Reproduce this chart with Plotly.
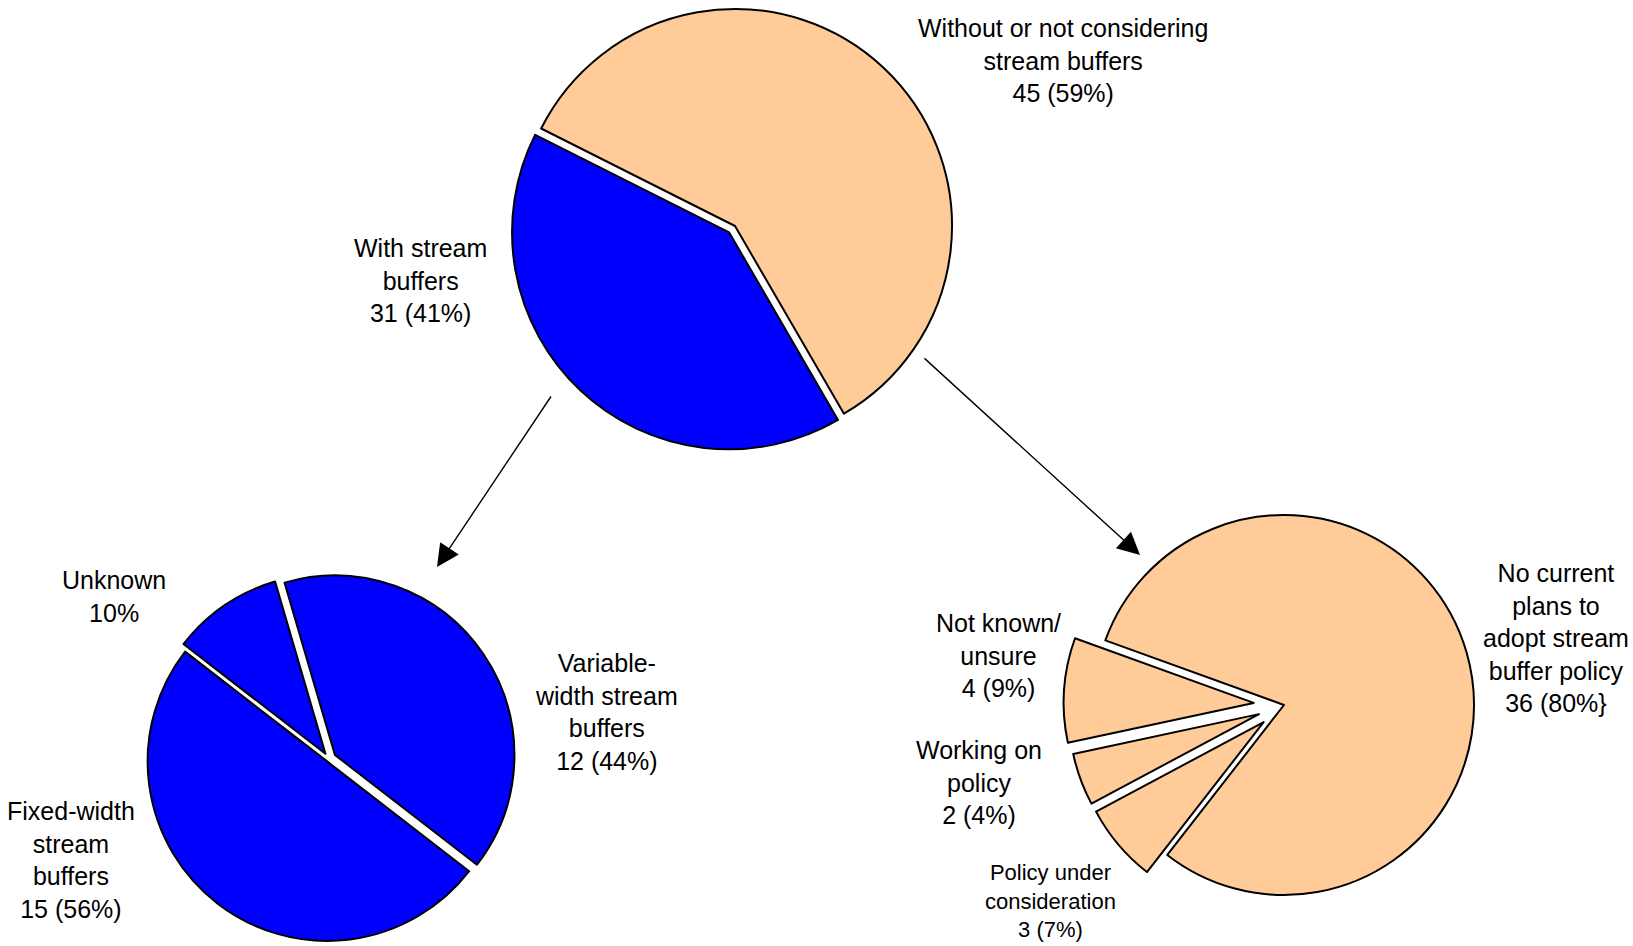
import plotly.graph_objects as go

W, H = 1633, 946

# ---------------- data ----------------
# Top pie: all respondents
top_labels = ["Without or not considering stream buffers", "With stream buffers"]
top_values = [45, 31]
top_text = ["Without or not considering<br>stream buffers<br>45 (59%)",
            "With stream<br>buffers<br>31 (41%)"]

# Bottom-left pie: with stream buffers
with_labels = ["Variable-width stream buffers", "Fixed-width stream buffers", "Unknown"]
with_values = [12, 15, 3]
with_text = ["Variable-<br>width stream<br>buffers<br>12 (44%)",
             "Fixed-width<br>stream<br>buffers<br>15 (56%)",
             "Unknown<br>10%"]

# Bottom-right pie: without stream buffers
without_labels = ["No current plans to adopt stream buffer policy",
                  "Policy under consideration", "Working on policy",
                  "Not known/unsure"]
without_values = [36, 3, 2, 4]
without_text = ["No current<br>plans to<br>adopt stream<br>buffer policy<br>36 (80%}",
                "Policy under<br>consideration<br>3 (7%)",
                "Working on<br>policy<br>2 (4%)",
                "Not known/<br>unsure<br>4 (9%)"]

# ---------------- styling / layout ----------------
BLUE = "#0000FF"
PEACH = "#FFCC99"
FONT = "Liberation Sans, Arial, sans-serif"


def domain(cx, cy, r, pull_max):
    h = r * (1 + pull_max)
    return dict(x=[max(0, (cx - h) / W), min(1, (cx + h) / W)],
                y=[max(0, 1 - (cy + h) / H), min(1, 1 - (cy - h) / H)])


pies = [
    dict(labels=top_labels, values=top_values, colors=[PEACH, BLUE],
         pull=[0, 0.04], rotation=-63.3, cx=735, cy=226, r=217),
    dict(labels=with_labels, values=with_values, colors=[BLUE, BLUE, BLUE],
         pull=[0.04, 0.017, 0.035], rotation=-16.3, cx=329, cy=759, r=179.5),
    dict(labels=without_labels, values=without_values,
         colors=[PEACH, PEACH, PEACH, PEACH],
         pull=[0, 0.14, 0.14, 0.16], rotation=-70.1, cx=1284, cy=705, r=190),
]

fig = go.Figure()
for p in pies:
    fig.add_trace(go.Pie(
        labels=p["labels"], values=p["values"], sort=False,
        direction="clockwise", rotation=p["rotation"], pull=p["pull"],
        marker=dict(colors=p["colors"], line=dict(color="black", width=2)),
        textinfo="none", hoverinfo="label+value+percent", showlegend=False,
        domain=domain(p["cx"], p["cy"], p["r"], max(p["pull"])),
    ))

# label positions (pixels: x, y-center, font size)
label_pos = [
    (top_text[0], 1063, 61, 25),
    (top_text[1], 420, 280, 25),
    (with_text[0], 606, 712, 25),
    (with_text[1], 71, 860, 25),
    (with_text[2], 114, 596, 25),
    (without_text[0], 1556, 638, 25),
    (without_text[1], 1050, 901, 22),
    (without_text[2], 979, 782, 25),
    (without_text[3], 998, 655, 25),
]

annotations = []
for txt, x, y, fs in label_pos:
    annotations.append(dict(
        text=txt, x=x / W, y=1 - y / H, xref="paper", yref="paper",
        xanchor="center", yanchor="middle", showarrow=False, align="center",
        font=dict(family=FONT, size=fs, color="black")))

# arrows (tail -> tip), pixels
arrows = [((552, 395), (437, 567)), ((923, 357), (1140, 555))]
for (tx, ty), (hx, hy) in arrows:
    annotations.append(dict(
        text="", x=hx / W, y=1 - hy / H, ax=tx - hx, ay=ty - hy,
        xref="paper", yref="paper", axref="pixel", ayref="pixel",
        showarrow=True, arrowhead=2, arrowsize=3.2, arrowwidth=1.4,
        arrowcolor="black", standoff=0))

fig.update_layout(
    width=W, height=H, margin=dict(l=0, r=0, t=0, b=0),
    paper_bgcolor="white", plot_bgcolor="white",
    annotations=annotations, font=dict(family=FONT),
)

fig.write_html("out.html",
               config={"displayModeBar": False},
               post_script="document.body.style.margin='0';"
                           "document.body.style.overflow='hidden';")
